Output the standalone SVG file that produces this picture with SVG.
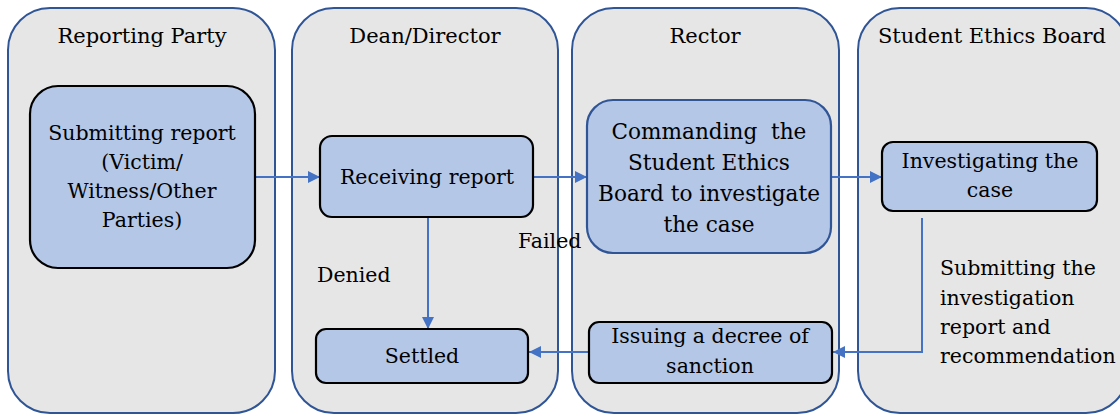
<svg xmlns="http://www.w3.org/2000/svg" width="1120" height="416" viewBox="0 0 1120 416">
  <style>
    .lane { fill: #E6E6E6; stroke: #2F5597; stroke-width: 2; }
    .node { fill: #B4C7E7; stroke: #000000; stroke-width: 2.2; }
    .node-blue { fill: #B4C7E7; stroke: #2F5597; stroke-width: 2.2; }
    text { font-family: "DejaVu Serif", "Liberation Serif", serif; fill: #000000; }
    .title { font-size: 21px; text-anchor: middle; }
    .label { font-size: 20.5px; text-anchor: middle; }
    .big { font-size: 21.6px; text-anchor: middle; white-space: pre; }
    .note { font-size: 20.5px; }
    .conn { fill: none; stroke: #4472C4; stroke-width: 2; }
  </style>
  <defs>
    <marker id="arrow" viewBox="0 0 10 10" refX="10" refY="5" markerWidth="12" markerHeight="12" orient="auto" markerUnits="userSpaceOnUse">
      <path d="M0,0 L10,5 L0,10 Z" fill="#4472C4"/>
    </marker>
  </defs>
  <rect width="1120" height="416" fill="#FFFFFF"/>

  <!-- swimlanes -->
  <g id="lane-reporting-party">
    <rect class="lane" x="8" y="8" width="267" height="405" rx="42"/>
    <text class="title" x="142" y="43">Reporting Party</text>
  </g>
  <g id="lane-dean-director">
    <rect class="lane" x="292" y="8" width="266" height="405" rx="42"/>
    <text class="title" x="425" y="43">Dean/Director</text>
  </g>
  <g id="lane-rector">
    <rect class="lane" x="572" y="8" width="267" height="405" rx="42"/>
    <text class="title" x="705" y="43">Rector</text>
  </g>
  <g id="lane-ethics-board">
    <rect class="lane" x="858" y="8" width="270" height="405" rx="42"/>
    <text class="title" x="992" y="43">Student Ethics Board</text>
  </g>

  <!-- connectors -->
  <g id="connectors">
    <line class="conn" x1="256" y1="177" x2="320" y2="177" marker-end="url(#arrow)"/>
    <line class="conn" x1="533" y1="177" x2="587" y2="177" marker-end="url(#arrow)"/>
    <line class="conn" x1="831" y1="177" x2="882" y2="177" marker-end="url(#arrow)"/>
    <line class="conn" x1="428" y1="217" x2="428" y2="329" marker-end="url(#arrow)"/>
    <polyline class="conn" points="922,218 922,352 833,352" marker-end="url(#arrow)"/>
    <line class="conn" x1="589" y1="352" x2="529" y2="352" marker-end="url(#arrow)"/>
    <text class="note" x="518" y="248">Failed</text>
    <text class="note" x="317" y="282">Denied</text>
    <text class="note" x="940" y="275">Submitting the</text>
    <text class="note" x="940" y="305">investigation</text>
    <text class="note" x="940" y="334">report and</text>
    <text class="note" x="940" y="363">recommendation</text>
  </g>

  <!-- process steps -->
  <g id="submitting-report">
    <rect class="node" x="30" y="86" width="225" height="182" rx="28"/>
    <text class="label" x="142" y="140">Submitting report</text>
    <text class="label" x="142" y="169">(Victim/</text>
    <text class="label" x="142" y="198">Witness/Other</text>
    <text class="label" x="142" y="227">Parties)</text>
  </g>
  <g id="receiving-report">
    <rect class="node" x="320" y="136" width="213" height="81" rx="12"/>
    <text class="label" x="427" y="184">Receiving report</text>
  </g>
  <g id="commanding-board">
    <rect class="node-blue" x="587" y="100" width="244" height="153" rx="26"/>
    <text class="big" x="709" y="139" xml:space="preserve">Commanding  the</text>
    <text class="big" x="709" y="170">Student Ethics</text>
    <text class="big" x="709" y="201">Board to investigate</text>
    <text class="big" x="709" y="232">the case</text>
  </g>
  <g id="investigating-case">
    <rect class="node" x="882" y="142" width="215" height="69" rx="11"/>
    <text class="label" x="990" y="168">Investigating the</text>
    <text class="label" x="990" y="197">case</text>
  </g>
  <g id="settled">
    <rect class="node" x="316" y="329" width="212" height="54" rx="10"/>
    <text class="label" x="422" y="363">Settled</text>
  </g>
  <g id="issuing-decree">
    <rect class="node" x="589" y="322" width="243" height="61" rx="10"/>
    <text class="label" x="710" y="343">Issuing a decree of</text>
    <text class="label" x="710" y="373">sanction</text>
  </g>
</svg>
